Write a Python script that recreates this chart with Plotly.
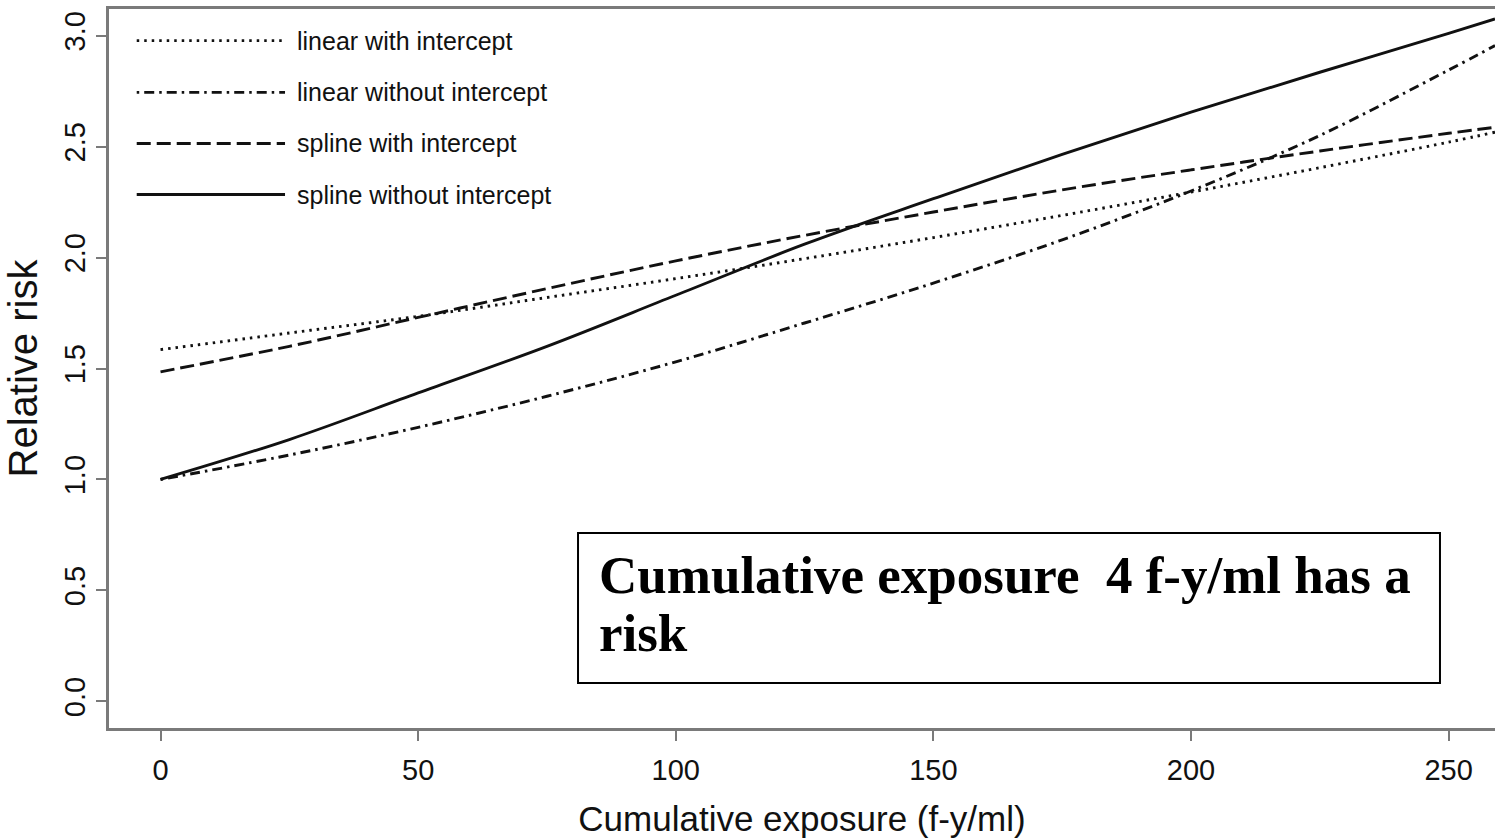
import plotly.graph_objects as go

# Cumulative exposure (f-y/ml) at which each fitted curve is evaluated
exposure = [0, 25, 50, 75, 100, 125, 150, 175, 200, 225, 250, 259]

# Fitted relative risk for each model
rr_linear_int = [1.585, 1.66, 1.735, 1.82, 1.905, 1.995, 2.09, 2.19, 2.295, 2.405, 2.52, 2.565]
rr_linear_noint = [1.0, 1.11, 1.235, 1.375, 1.53, 1.705, 1.885, 2.08, 2.30, 2.55, 2.845, 2.955]
rr_spline_int = [1.485, 1.60, 1.73, 1.86, 1.985, 2.10, 2.205, 2.305, 2.395, 2.48, 2.56, 2.587]
rr_spline_noint = [1.0, 1.18, 1.39, 1.60, 1.83, 2.06, 2.265, 2.465, 2.655, 2.835, 3.01, 3.075]

series_names = ["linear with intercept", "linear without intercept",
                "spline with intercept", "spline without intercept"]
x_ticks = [0, 50, 100, 150, 200, 250]
y_ticks = [0.0, 0.5, 1.0, 1.5, 2.0, 2.5, 3.0]

INK = "#111111"
AXIS = "#7a7a7a"
dashes = ["2.5px,5px", "2.5px,5px,10px,5px", "14px,6px", "solid"]
series = [rr_linear_int, rr_linear_noint, rr_spline_int, rr_spline_noint]

fig = go.Figure()
for name, ys, dash in zip(series_names, series, dashes):
    fig.add_trace(go.Scatter(
        x=exposure, y=ys, mode="lines", name=name,
        line=dict(color=INK, width=2.9, dash=dash, shape="spline", smoothing=1.0),
        showlegend=False, cliponaxis=True,
    ))

# Hand-drawn legend in the upper-left corner
leg_y = [0.956, 0.884, 0.813, 0.742]
for name, dash, yy in zip(series_names, dashes, leg_y):
    fig.add_shape(type="line", xref="paper", yref="paper",
                  x0=0.020, x1=0.127, y0=yy, y1=yy,
                  line=dict(color=INK, width=2.9, dash=dash))
    fig.add_annotation(text=name, xref="paper", yref="paper",
                       x=0.134, y=yy, xanchor="left", yanchor="middle",
                       showarrow=False,
                       font=dict(family="Liberation Sans, Arial", size=25, color=INK))

# Boxed note
fig.add_shape(type="rect", xref="paper", yref="paper",
              x0=0.3384, x1=0.9603, y0=0.0626, y1=0.2712,
              line=dict(color="black", width=2), fillcolor="white", layer="above")
note_font = dict(family="Liberation Serif, Times New Roman", size=53, color="black")
fig.add_annotation(text="<b>Cumulative exposure \u00a04 f-y/ml has a</b>",
                   xref="paper", yref="paper", x=0.352, y=0.2125,
                   xanchor="left", yanchor="middle", showarrow=False, font=note_font)
fig.add_annotation(text="<b>risk</b>",
                   xref="paper", yref="paper", x=0.352, y=0.1315,
                   xanchor="left", yanchor="middle", showarrow=False, font=note_font)

tick_font = dict(family="Liberation Sans, Arial", size=29, color=INK)
fig.update_xaxes(
    range=[-10.0, 259.0], tickvals=x_ticks, ticktext=[str(v) for v in x_ticks],
    showgrid=False, zeroline=False,
    showline=True, linecolor=AXIS, linewidth=2.5, mirror=True,
    ticks="outside", ticklen=10, tickwidth=2, tickcolor=AXIS,
    tickfont=tick_font, ticklabelstandoff=4,
    title=dict(text="Cumulative exposure (f-y/ml)", standoff=22,
               font=dict(family="Liberation Sans, Arial", size=35, color=INK)),
)
fig.update_yaxes(
    range=[-0.12, 3.12], tickvals=y_ticks, ticktext=[f"{v:.1f}" for v in y_ticks],
    showgrid=False, zeroline=False,
    showline=True, linecolor=AXIS, linewidth=2.5, mirror=False,
    ticks="outside", ticklen=10, tickwidth=2, tickcolor=AXIS,
    tickfont=tick_font, tickangle=-90, ticklabelstandoff=0,
    title=dict(text="Relative risk", standoff=9,
               font=dict(family="Liberation Sans, Arial", size=40, color=INK)),
)

fig.update_layout(
    width=1495, height=840,
    margin=dict(l=109, r=0, t=9, b=112),
    paper_bgcolor="white", plot_bgcolor="white",
    showlegend=False,
)

fig.write_html("out.html")
